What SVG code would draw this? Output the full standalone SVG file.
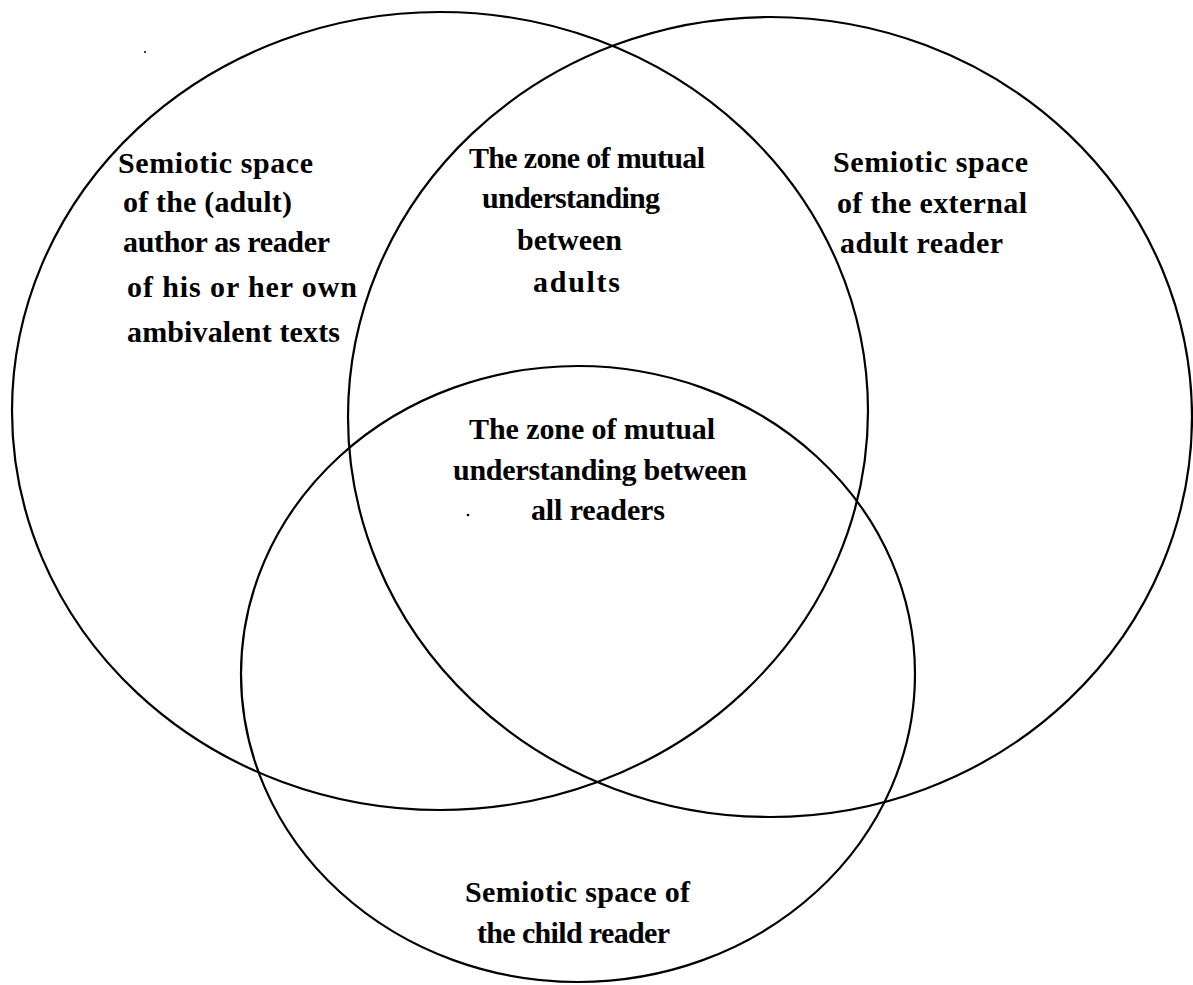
<svg xmlns="http://www.w3.org/2000/svg" width="1193" height="985" viewBox="0 0 1193 985">
<style>
.c{fill:none;stroke:#000;stroke-width:2.2}
.t{font-family:"Liberation Serif","Times New Roman",serif;font-weight:bold;font-size:30px;fill:#000}
</style>
<rect width="1193" height="985" fill="#fff"/>
<g id="connectors"></g>
<g id="author-space">
<ellipse class="c" cx="440" cy="411" rx="428" ry="399"/>
<text class="t"><tspan x="118" y="173" textLength="195">Semiotic space</tspan><tspan x="123" y="212" textLength="169">of the (adult)</tspan><tspan x="123" y="252" textLength="207">author as reader</tspan><tspan x="127" y="297" textLength="230">of his or her own</tspan><tspan x="127" y="342" textLength="213">ambivalent texts</tspan></text>
</g>
<g id="external-adult-space">
<ellipse class="c" cx="770" cy="417" rx="422" ry="400"/>
<text class="t"><tspan x="833" y="172" textLength="195">Semiotic space</tspan><tspan x="837" y="213" textLength="190">of the external</tspan><tspan x="840" y="253" textLength="163">adult reader</tspan></text>
</g>
<g id="child-space">
<ellipse class="c" cx="578" cy="674" rx="337" ry="308"/>
<text class="t"><tspan x="465" y="902" textLength="225">Semiotic space of</tspan><tspan x="477" y="943" textLength="193">the child reader</tspan></text>
</g>
<g id="adults-zone">
<text class="t"><tspan x="469" y="168" textLength="236">The zone of mutual</tspan><tspan x="482" y="208" textLength="178">understanding</tspan><tspan x="517" y="250" textLength="105">between</tspan><tspan x="533" y="292" textLength="87">adults</tspan></text>
</g>
<g id="all-readers-zone">
<text class="t"><tspan x="469" y="439" textLength="246">The zone of mutual</tspan><tspan x="453" y="480" textLength="294">understanding between</tspan><tspan x="531" y="520" textLength="134">all readers</tspan></text>
</g>
<circle cx="468" cy="515" r="1.3" fill="#000"/>
<circle cx="145" cy="52" r="1" fill="#000"/>
</svg>
